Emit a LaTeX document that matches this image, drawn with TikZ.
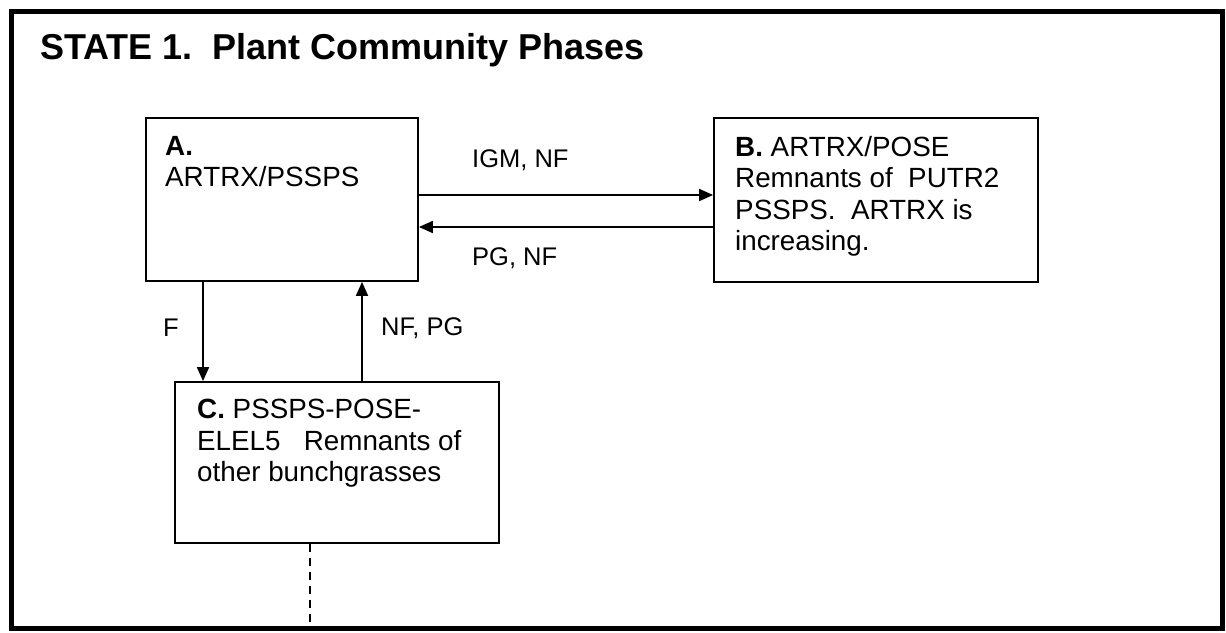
\documentclass[tikz,border=0pt]{standalone}
\usepackage{fontspec}
\setmainfont{Liberation Sans}
\usetikzlibrary{arrows.meta, positioning}
\tikzset{
  phase/.style={draw, line width=1.8pt, inner sep=0pt},
  phasetext/.style={anchor=north west, inner sep=0pt, align=left, font=\fontsize{27.8}{31.5}\selectfont},
  trans/.style={line width=1.8pt, -{Triangle[length=14pt,width=12pt]}},
  translabel/.style={inner sep=0pt, font=\fontsize{25.5}{31}\selectfont},
}
\begin{document}
\begin{tikzpicture}[x=1pt,y=-1pt]
\useasboundingbox (0,0) rectangle (1226,632);
\draw[line width=5pt] (11,11) rectangle (1222,628);
\node[anchor=west, inner sep=0pt, font=\fontsize{36}{42}\selectfont\bfseries] (title) at (40,50) {STATE 1.\ \ Plant Community Phases};

% phase boxes
\node[phase, minimum width=272pt, minimum height=163pt] (A) at (282,199.5) {};
\node[phase, minimum width=324pt, minimum height=164pt] (B) at (876,200) {};
\node[phase, minimum width=324pt, minimum height=161pt] (C) at (337,462.5) {};
\node[phasetext] (Atext) at (165,136) {\textbf{A.}\\ARTRX/PSSPS};
\node[phasetext] (Btext) at (735,136) {\textbf{B.} ARTRX/POSE\\Remnants of\ \ PUTR2\\PSSPS.\ \ ARTRX is\\increasing.};
\node[phasetext] (Ctext) at (197,399) {\textbf{C.} PSSPS-POSE-\\ELEL5\ \ \ Remnants of\\other bunchgrasses};

% transitions
\coordinate (upper) at (0,195);
\coordinate (lower) at (0,227);
\coordinate (down) at (203,0);
\coordinate (up) at (362,0);
\coordinate (edge) at (310,628);
\draw[trans] (A.east |- upper) -- (B.west |- upper);
\draw[trans] (B.west |- lower) -- (A.east |- lower);
\draw[trans] (A.south -| down) -- (C.north -| down);
\draw[trans] (C.north -| up) -- (A.south -| up);
\draw[line width=1.5pt, dash pattern=on 8pt off 6pt] (C.south -| edge) -- (edge);
\node[translabel, anchor=west] (igm) at (472,160) {IGM, NF};
\node[translabel, anchor=west] (pg) at (472,258) {PG, NF};
\node[translabel] (f) at (171,328) {F};
\node[translabel, anchor=west] (nfpg) at (381,328) {NF, PG};
\end{tikzpicture}
\end{document}
